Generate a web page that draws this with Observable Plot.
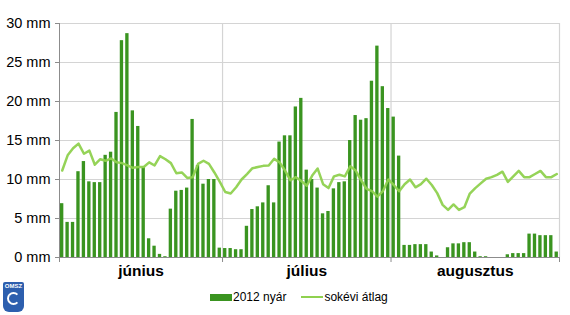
<!DOCTYPE html>
<html>
<head>
<meta charset="utf-8">
<script src="https://cdn.jsdelivr.net/npm/d3@7"></script>
<script src="https://cdn.jsdelivr.net/npm/@observablehq/plot@0.6"></script>
<style>
  body { margin: 0; background: #fff; font-family: "Liberation Sans", Arial, sans-serif; }
  #wrap { position: relative; width: 570px; height: 315px; }
  #legend { position: absolute; left: 210px; top: 290px; display: flex; align-items: center; font-size: 12px; color: #000; }
  .sw-bar { width: 22px; height: 7px; background: #3a9420; margin-right: 1px; }
  .sw-line { width: 22px; height: 2px; background: #8fd14f; margin-left: 15px; margin-right: 1px; }
  #logo { position: absolute; left: 3px; top: 282px; width: 21px; height: 30px; background: #2d5fae; border-radius: 2px 2px 6px 6px; color: #fff; font-size: 6px; font-weight: bold; text-align: center; line-height: 9px; }
  #logo .c { width: 13px; height: 13px; border: 2px solid #fff; border-radius: 50%; margin: 1px auto 0; box-sizing: border-box; border-right-color: transparent; }
</style>
</head>
<body>
<div id="wrap">
  <div id="chart"></div>
  <div id="legend"><div class="sw-bar"></div><span>2012 nyár</span><div class="sw-line"></div><span>sokévi átlag</span></div>
  <div id="logo">OMSZ<div class="c"></div></div>
</div>
<script>
const monthNames = ["június", "július", "augusztus"];
const monthDays = [30, 31, 31];

const juneRain = [6.9,4.5,4.5,11.0,12.3,9.7,9.6,9.6,13.1,13.5,18.6,27.8,28.7,18.8,16.8,11.6,2.4,1.45,0.4,0.1,6.2,8.5,8.6,8.9,17.7,11.8,9.4,10.0,10.0,1.2];
const julyRain = [1.15,1.15,1.0,1.0,4.0,6.15,6.5,7.0,9.2,7.0,14.8,15.6,15.6,19.3,20.4,11.2,10.0,8.9,5.6,5.9,8.8,9.6,9.7,15.0,18.2,17.6,17.8,22.6,27.1,21.9,19.1];
const augRain  = [18.0,13.0,1.55,1.55,1.65,1.65,1.65,0.7,0.2,0,1.25,1.75,1.75,1.9,1.9,0.7,0.1,0.1,0,0,0,0.35,0.5,0.5,0.5,3.0,3.0,2.8,2.8,2.8,0.7];

const juneAvg = [11.15,13.1,14.0,14.6,13.3,13.7,11.9,12.6,12.4,12.7,12.2,12.1,11.8,11.5,11.6,11.6,12.2,11.8,13.0,12.6,12.1,10.8,10.9,10.2,10.3,12.0,12.4,12.0,10.9,9.7];
const julyAvg = [8.4,8.2,9.0,10.0,10.7,11.45,11.6,11.75,11.8,12.65,12.2,11.15,9.9,10.3,9.8,9.2,10.5,11.4,9.4,8.9,10.4,10.6,10.4,11.7,11.15,9.9,8.8,8.5,7.8,8.5,10.0];
const augAvg  = [9.3,8.5,9.4,10.0,9.0,9.4,10.1,9.3,8.25,6.75,6.1,6.8,6.1,6.45,8.2,8.9,9.5,10.1,10.3,10.6,11.0,9.7,10.4,11.1,10.3,10.3,10.7,11.1,10.3,10.3,10.7];

const yTicks = [0, 5, 10, 15, 20, 25, 30];

const rain = [...juneRain, ...julyRain, ...augRain];
const avg = [...juneAvg, ...julyAvg, ...augAvg];
const rows = rain.map((v, i) => ({i, v, a: avg[i]}));
const total = rows.length;

const bounds = [0];
monthDays.forEach(n => bounds.push(bounds[bounds.length - 1] + n));
const months = monthNames.map((name, k) => ({name, c: (bounds[k] + bounds[k + 1]) / 2}));

const chart = Plot.plot({
  width: 570,
  height: 284,
  marginLeft: 59,
  marginRight: 11,
  marginTop: 23,
  marginBottom: 27,
  style: {fontFamily: "'Liberation Sans', Arial, sans-serif", background: "#fff"},
  x: {domain: [0, total], axis: null},
  y: {domain: [0, 30], axis: null},
  marks: [
    Plot.gridY(yTicks, {stroke: "#d4d4d4", strokeOpacity: 1, strokeWidth: 1.2}),
    Plot.ruleX(bounds.slice(1), {stroke: "#d4d4d4", strokeWidth: 1.2}),
    Plot.rectY(rows, {x1: "i", x2: d => d.i + 1, y: "v", fill: "#3a9420", insetLeft: 1, insetRight: 1.1}),
    Plot.line(rows, {x: d => d.i + 0.5, y: "a", stroke: "#8fd14f", strokeWidth: 2.5, strokeOpacity: 0.95}),
    Plot.ruleX([0], {stroke: "#8c8c8c"}),
    Plot.ruleY([0], {stroke: "#8c8c8c"}),
    Plot.axisY(yTicks, {tickFormat: d => d + " mm", tickSize: 4, tickPadding: 5, fontSize: 14.5, stroke: "#8c8c8c"}),
    Plot.axisX(bounds, {tickSize: 5, tickFormat: () => "", stroke: "#8c8c8c"}),
    Plot.text(months, {x: "c", text: "name", frameAnchor: "bottom", dy: 18, fontSize: 15.5, fontWeight: "bold", fill: "#000"})
  ]
});
document.getElementById("chart").appendChild(chart);
</script>
</body>
</html>
